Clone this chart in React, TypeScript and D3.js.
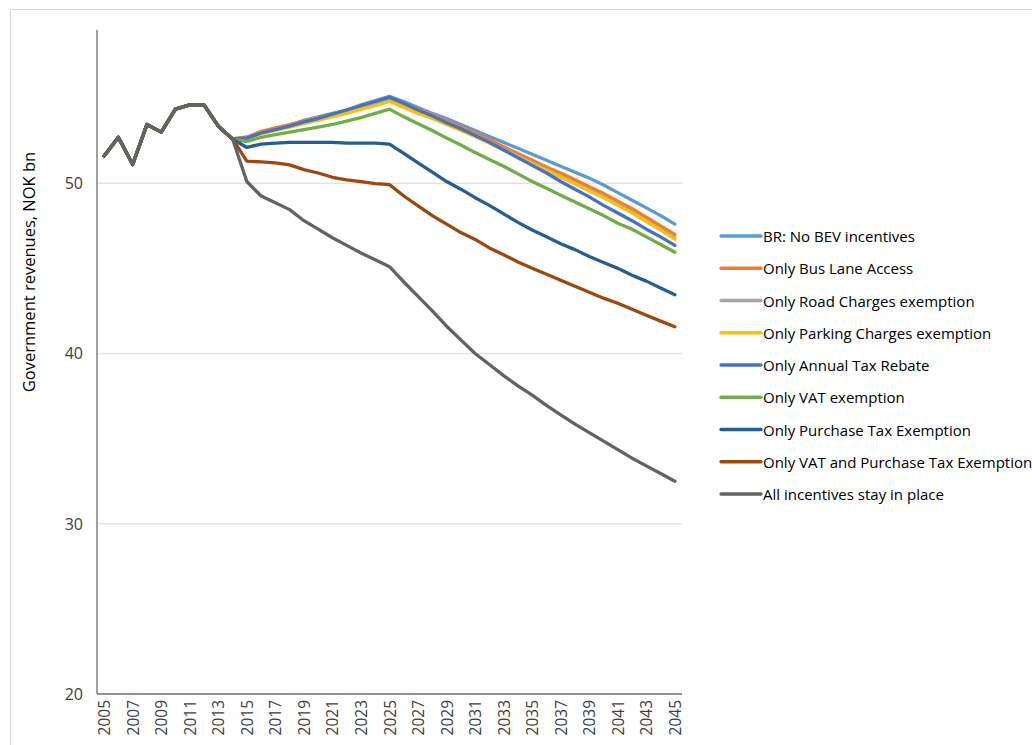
import React from 'react'
import * as d3 from 'd3'

const years = d3.range(2005, 2046)
const yearLabels = years.filter((y) => (y - 2005) % 2 === 0)
const yTicks = [20, 30, 40, 50]

// history shared by every scenario (2005-2014)
const history = [51.6, 52.7, 51.1, 53.45, 53.0, 54.35, 54.6, 54.6, 53.35, 52.6]

// scenarios 2015-2045
const noIncentives = [52.7, 53.0, 53.2, 53.4, 53.7, 53.9, 54.1, 54.3, 54.6, 54.85, 55.1,
  54.8, 54.45, 54.1, 53.8, 53.45, 53.1, 52.75, 52.4, 52.05, 51.7,
  51.35, 51.0, 50.65, 50.3, 49.9, 49.45, 49.0, 48.55, 48.1, 47.6]
const busLane = [52.7, 53.05, 53.25, 53.45, 53.65, 53.85, 54.05, 54.3, 54.55, 54.8, 55.0,
  54.7, 54.35, 54.0, 53.65, 53.3, 52.95, 52.55, 52.15, 51.75, 51.35,
  50.95, 50.6, 50.2, 49.8, 49.4, 48.95, 48.5, 48.0, 47.5, 47.0]
const roadCharges = [52.65, 52.95, 53.15, 53.35, 53.55, 53.75, 53.95, 54.15, 54.4, 54.65, 54.9,
  54.55, 54.2, 53.85, 53.5, 53.15, 52.8, 52.4, 52.0, 51.6, 51.2,
  50.8, 50.4, 50.0, 49.6, 49.2, 48.75, 48.3, 47.8, 47.3, 46.8]
const parkingCharges = [52.6, 52.9, 53.1, 53.3, 53.5, 53.7, 53.9, 54.1, 54.35, 54.55, 54.8,
  54.45, 54.1, 53.8, 53.45, 53.1, 52.75, 52.35, 51.95, 51.55, 51.15,
  50.75, 50.35, 49.95, 49.55, 49.15, 48.7, 48.25, 47.75, 47.25, 46.7]
const annualTax = [52.65, 52.95, 53.15, 53.35, 53.6, 53.8, 54.05, 54.3, 54.55, 54.8, 55.05,
  54.7, 54.3, 53.95, 53.55, 53.2, 52.8, 52.4, 51.95, 51.5, 51.05,
  50.6, 50.1, 49.65, 49.2, 48.7, 48.25, 47.8, 47.3, 46.85, 46.35]
const vatExemption = [52.45, 52.7, 52.85, 53.0, 53.15, 53.3, 53.45, 53.65, 53.85, 54.1, 54.35,
  53.9, 53.5, 53.1, 52.65, 52.25, 51.8, 51.4, 51.0, 50.55, 50.1,
  49.7, 49.3, 48.9, 48.5, 48.1, 47.65, 47.3, 46.85, 46.4, 45.95]
const purchaseTax = [52.1, 52.3, 52.35, 52.4, 52.4, 52.4, 52.4, 52.35, 52.35, 52.35, 52.3,
  51.75, 51.2, 50.65, 50.1, 49.65, 49.15, 48.7, 48.2, 47.7, 47.25,
  46.85, 46.45, 46.1, 45.7, 45.35, 45.0, 44.6, 44.25, 43.85, 43.45]
const vatAndPurchase = [51.3, 51.25, 51.2, 51.08, 50.8, 50.6, 50.35, 50.2, 50.1, 49.98, 49.92,
  49.25, 48.67, 48.1, 47.6, 47.1, 46.7, 46.2, 45.8, 45.37, 45.0,
  44.65, 44.3, 43.95, 43.6, 43.25, 42.95, 42.6, 42.25, 41.9, 41.57]
const allIncentives = [50.1, 49.25, 48.85, 48.45, 47.8, 47.3, 46.8, 46.35, 45.9, 45.5, 45.1,
  44.2, 43.35, 42.5, 41.6, 40.8, 40.0, 39.35, 38.7, 38.1, 37.55,
  36.95, 36.4, 35.85, 35.35, 34.85, 34.35, 33.85, 33.4, 32.95, 32.5]

const seriesNames = [
  'BR: No BEV incentives',
  'Only Bus Lane Access',
  'Only Road Charges exemption',
  'Only Parking Charges exemption',
  'Only Annual Tax Rebate',
  'Only VAT exemption',
  'Only Purchase Tax Exemption',
  'Only VAT and Purchase Tax Exemption',
  'All incentives stay in place',
]
const seriesValues = [noIncentives, busLane, roadCharges, parkingCharges, annualTax,
  vatExemption, purchaseTax, vatAndPurchase, allIncentives]
const colors = ['#5B9BD5', '#ED7D31', '#A5A5A5', '#FFC000', '#4472C4', '#70AD47', '#255E91', '#9E480E', '#636363']

const W = 1032
const H = 745
const margin = { left: 97, right: 682, top: 30, bottom: 694 }
const font = '"Open Sans", sans-serif'

export default function App() {
  const x = d3.scalePoint<number>().domain(years).range([margin.left, margin.right]).padding(0.5)
  const y = d3.scaleLinear().domain([20, 59]).range([margin.bottom, margin.top])

  const line = d3.line<number>()
    .x((_, i) => x(years[i]) as number)
    .y((d) => y(d))

  const series = seriesNames.map((name, i) => ({
    name,
    color: colors[i],
    values: history.concat(seriesValues[i]),
  }))

  return (
    <div style={{ position: 'absolute', left: 0, top: 0 }}>
      <svg width={W} height={H} style={{ display: 'block', fontFamily: font }}>
        <rect x={0} y={0} width={W} height={H} fill="#fff" />
        <rect x={10.5} y={9.5} width={W} height={H} fill="#fff" stroke="#d9d9d9" />

        {yTicks.filter((t) => t > 20).map((t) => (
          <line key={t} x1={margin.left} x2={margin.right} y1={y(t)} y2={y(t)} stroke="#e3e3e3" strokeWidth={1.3} />
        ))}

        <line x1={margin.left} x2={margin.left} y1={margin.top} y2={margin.bottom} stroke="#6e6e6e" strokeWidth={1.3} />
        <line x1={margin.left} x2={margin.right} y1={margin.bottom} y2={margin.bottom} stroke="#6e6e6e" strokeWidth={1.3} />

        {yTicks.map((t) => (
          <text key={t} x={83} y={y(t)} textAnchor="end" dominantBaseline="central" fontSize={16} fill="#404040">
            {t}
          </text>
        ))}

        {yearLabels.map((yr) => (
          <text key={yr} transform={`translate(${x(yr)},${margin.bottom + 6}) rotate(-90)`}
            textAnchor="end" dominantBaseline="central" fontSize={15.5} fill="#404040">
            {yr}
          </text>
        ))}

        <text transform={`translate(35,272) rotate(-90)`} textAnchor="middle" fontSize={16.5} fill="#000">
          Government revenues, NOK bn
        </text>

        {series.map((s) => (
          <path key={s.name} d={line(s.values) || ''} fill="none" stroke={s.color}
            strokeWidth={3.3} strokeLinejoin="round" strokeLinecap="round" />
        ))}

        {series.map((s, i) => {
          const ly = 236 + i * 32.25
          return (
            <g key={s.name}>
              <line x1={721} x2={761} y1={ly} y2={ly} stroke={s.color} strokeWidth={3.3} strokeLinecap="round" />
              <text x={763} y={ly} dominantBaseline="central" fontSize={15} fill="#000">
                {s.name}
              </text>
            </g>
          )
        })}
      </svg>
    </div>
  )
}
